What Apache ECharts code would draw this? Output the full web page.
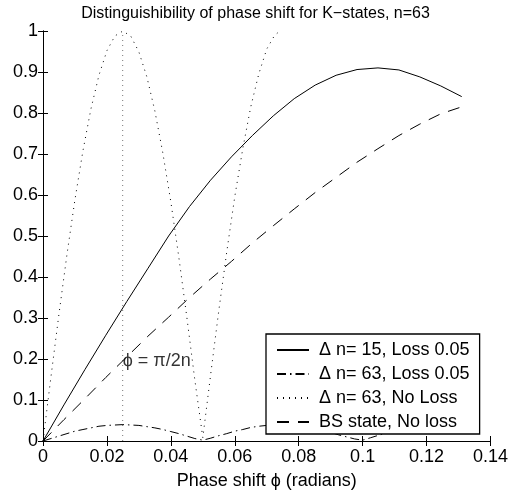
<!DOCTYPE html>
<html>
<head>
<meta charset="utf-8">
<script src="https://cdn.jsdelivr.net/npm/echarts@6/dist/echarts.min.js"></script>
<style>
html,body{margin:0;padding:0;background:#fff;}
#c{width:511px;height:495px;}
</style>
</head>
<body>
<div id="c"></div>
<script>
// ---- data ----
const seriesNames = ['\u0394 n= 15, Loss 0.05', '\u0394 n= 63, Loss 0.05', '\u0394 n= 63, No Loss', 'BS state, No loss'];

// coarse sampling (solid & dashed)
const xCoarse = [0, 0.00655, 0.0131, 0.01965, 0.0262, 0.03275, 0.0393, 0.04585, 0.0524, 0.05895, 0.0655,
                 0.07205, 0.0786, 0.08515, 0.0917, 0.09825, 0.1048, 0.11135, 0.1179, 0.12445, 0.131];
const ySolid  = [0, 0.088, 0.174, 0.258, 0.340, 0.420, 0.500, 0.572, 0.636, 0.693, 0.745,
                 0.793, 0.835, 0.868, 0.892, 0.906, 0.910, 0.905, 0.888, 0.866, 0.840];
const yDashed = [0, 0.052, 0.103, 0.155, 0.205, 0.255, 0.302, 0.350, 0.395, 0.438, 0.483,
                 0.525, 0.566, 0.606, 0.643, 0.680, 0.713, 0.745, 0.773, 0.798, 0.815];

// fine sampling (dash-dot)
const xDashDot = [0, 0.0025, 0.005, 0.0075, 0.01, 0.0125, 0.015, 0.0175, 0.02, 0.0225, 0.025, 0.0275, 0.03,
                  0.0325, 0.035, 0.0375, 0.04, 0.0425, 0.045, 0.0475, 0.05, 0.0525, 0.055, 0.0575, 0.06,
                  0.0625, 0.065, 0.0675, 0.07, 0.0725, 0.075, 0.0775, 0.08, 0.0825, 0.085, 0.0875, 0.09,
                  0.0925, 0.095, 0.0975, 0.1, 0.1025, 0.105, 0.1075, 0.11, 0.1125, 0.115, 0.1175, 0.12,
                  0.1225, 0.125, 0.1275, 0.13, 0.131];
const yDashDot = [0, 0.006, 0.012, 0.018, 0.024, 0.028, 0.032, 0.036, 0.038, 0.039, 0.040, 0.039, 0.038,
                  0.035, 0.032, 0.028, 0.023, 0.018, 0.012, 0.006, 0.002, 0.007, 0.013, 0.018, 0.024,
                  0.028, 0.033, 0.036, 0.038, 0.040, 0.040, 0.039, 0.037, 0.034, 0.030, 0.026, 0.021,
                  0.015, 0.010, 0.005, 0.002, 0.008, 0.014, 0.020, 0.025, 0.030, 0.034, 0.037, 0.039,
                  0.040, 0.040, 0.039, 0.037, 0.036];

// fine sampling (dotted, no loss)
const xDotted = [0, 0.0025, 0.005, 0.0075, 0.01, 0.0125, 0.015, 0.0175, 0.02, 0.0225, 0.025, 0.0275, 0.03,
                 0.0325, 0.035, 0.0375, 0.04, 0.0425, 0.045, 0.0475, 0.05, 0.0525, 0.055, 0.0575, 0.06,
                 0.0625, 0.065, 0.0675, 0.07, 0.0725, 0.0735];
const yDotted = [0, 0.157, 0.310, 0.455, 0.589, 0.708, 0.810, 0.892, 0.952, 0.988, 1.000, 0.987, 0.949,
                 0.888, 0.805, 0.702, 0.583, 0.448, 0.302, 0.149, 0.008, 0.165, 0.318, 0.462, 0.596,
                 0.713, 0.815, 0.895, 0.956, 0.990, 0.996];

// reference line phi = pi/2n
const refX = [0.02493, 0.02493];
const refY = [0, 1];
const annotationPos = [0.02493, 0.195];
const annotationText = '\u03d5 = \u03c0/2n';

const xTicks = {min: 0, max: 0.14, interval: 0.02};
const yTicks = {min: 0, max: 1, interval: 0.1};

const titleText = 'Distinguishibility of phase shift for K\u2212states, n=63';
const xName = 'Phase shift \u03d5 (radians)';

// ---- build ----
const zip = (xs, ys) => xs.map((x, i) => [x, ys[i]]);
const FONT = "'Liberation Sans', Arial, Helvetica, sans-serif";
const FS = 18;

const tickCommon = {show: true, inside: true, length: 5, lineStyle: {color: '#000', width: 1}};
const lineCommon = {show: true, lineStyle: {color: '#000', width: 1}};

const chart = echarts.init(document.getElementById('c'), null, {renderer: 'canvas'});
chart.setOption({
  animation: false,
  backgroundColor: '#fff',
  textStyle: {fontFamily: FONT},
  title: {
    text: titleText, left: 'center', top: 1,
    textStyle: {fontFamily: FONT, fontSize: 16, fontWeight: 'normal', color: '#000'}
  },
  grid: {left: 43, right: 20, top: 31, bottom: 54, containLabel: false},
  legend: {
    orient: 'vertical', left: 266, top: 334,
    data: seriesNames,
    itemWidth: 32, itemHeight: 14, itemGap: 6,
    padding: [7, 10, 3, 10],
    itemStyle: {opacity: 0},
    backgroundColor: '#fff', borderColor: '#000', borderWidth: 1.3, borderRadius: 0,
    textStyle: {fontFamily: FONT, fontSize: FS, lineHeight: 18, color: '#000', padding: [0, 0, 0, 5]}
  },
  xAxis: [
    {type: 'value', min: xTicks.min, max: xTicks.max, interval: xTicks.interval, position: 'bottom',
     name: xName, nameLocation: 'middle', nameGap: 31,
     nameTextStyle: {fontFamily: FONT, fontSize: FS, color: '#000'},
     axisLine: lineCommon, axisTick: tickCommon, splitLine: {show: false},
     axisLabel: {fontFamily: FONT, fontSize: FS, color: '#000', margin: 7}},
    {type: 'value', min: xTicks.min, max: xTicks.max, interval: xTicks.interval, position: 'top',
     axisLine: lineCommon, axisTick: tickCommon, splitLine: {show: false}, axisLabel: {show: false}}
  ],
  yAxis: [
    {type: 'value', min: yTicks.min, max: yTicks.max, interval: yTicks.interval, position: 'left',
     axisLine: lineCommon, axisTick: tickCommon, splitLine: {show: false},
     axisLabel: {fontFamily: FONT, fontSize: FS, color: '#000', margin: 5}},
    {type: 'value', min: yTicks.min, max: yTicks.max, interval: yTicks.interval, position: 'right',
     axisLine: lineCommon, axisTick: tickCommon, splitLine: {show: false}, axisLabel: {show: false}}
  ],
  series: [
    {name: 'ref', type: 'line', data: zip(refX, refY), symbol: 'none', silent: true,
     lineStyle: {color: '#777', width: 1, type: [1, 4]}, z: 1},
    {name: seriesNames[0], type: 'line', data: zip(xCoarse, ySolid), symbol: 'none',
     lineStyle: {color: '#000', width: 1, type: 'solid'}, itemStyle: {color: '#000'}},
    {name: seriesNames[1], type: 'line', data: zip(xDashDot, yDashDot), symbol: 'none',
     lineStyle: {color: '#000', width: 1, type: [9, 4, 1.5, 4]}, itemStyle: {color: '#000'}},
    {name: seriesNames[2], type: 'line', data: zip(xDotted, yDotted), symbol: 'none',
     lineStyle: {color: '#000', width: 1, type: [1, 5]}, itemStyle: {color: '#000'}},
    {name: seriesNames[3], type: 'line', data: zip(xCoarse, yDashed), symbol: 'none',
     lineStyle: {color: '#000', width: 1, type: [12, 9]}, itemStyle: {color: '#000'}},
    {name: 'annot', type: 'scatter', data: [annotationPos], symbolSize: 0, silent: true,
     label: {show: true, position: 'right', distance: 0, formatter: annotationText,
             fontFamily: FONT, fontSize: FS, color: '#000'}}
  ]
});
</script>
</body>
</html>
